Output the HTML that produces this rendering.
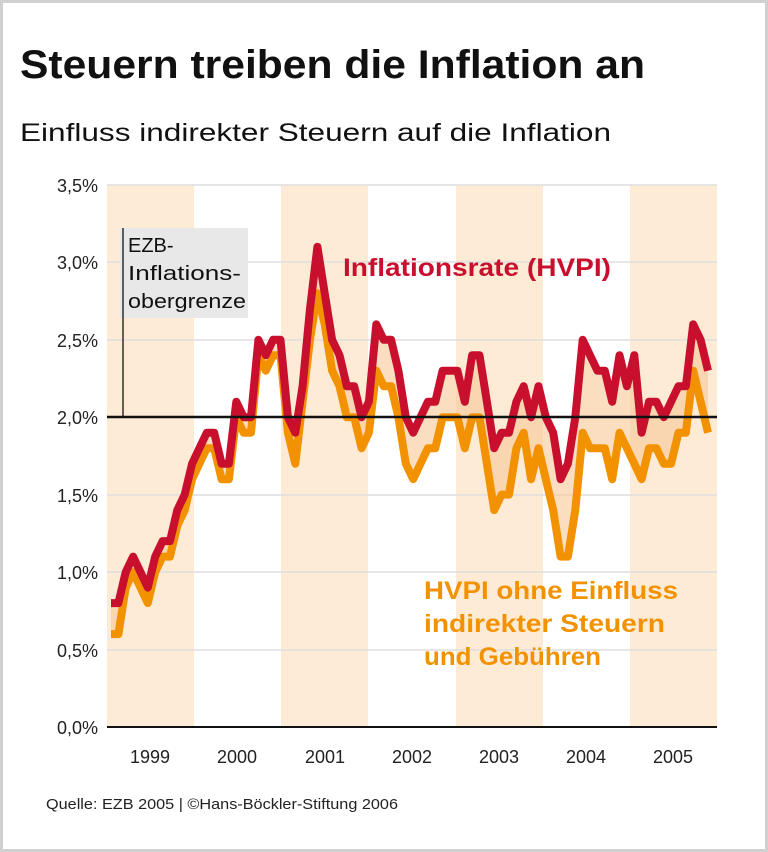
<!DOCTYPE html>
<html><head><meta charset="utf-8"><style>
body{margin:0;background:#fff;}
#w{position:relative;width:762px;height:846px;border:3px solid #d0d0d0;background:#fff;font-family:"Liberation Sans",sans-serif;}
</style></head><body><div id="w">
<svg id="s" width="762" height="846" viewBox="3 3 762 846" style="position:absolute;left:0;top:0" font-family="Liberation Sans, sans-serif">
<g fill="#fdebd6">
<rect x="107" y="185" width="87" height="542"/>
<rect x="281" y="185" width="87" height="542"/>
<rect x="456" y="185" width="87" height="542"/>
<rect x="630" y="185" width="87" height="542"/>
</g>
<g stroke="#dedede" stroke-width="1.5">
<line x1="107" x2="717" y1="185" y2="185"/><line x1="107" x2="717" y1="262" y2="262"/>
<line x1="107" x2="717" y1="340" y2="340"/><line x1="107" x2="717" y1="495" y2="495"/>
<line x1="107" x2="717" y1="572" y2="572"/><line x1="107" x2="717" y1="650" y2="650"/>
</g>
<rect x="120" y="228" width="128" height="90" fill="#e8e8e8"/>
<line x1="123" y1="228" x2="123" y2="417" stroke="#000" stroke-width="1.2"/>
<text font-size="20" fill="#111"><tspan x="128" y="252">EZB-</tspan><tspan x="128" y="280" textLength="113" lengthAdjust="spacingAndGlyphs">Inflations-</tspan><tspan x="128" y="308" textLength="118" lengthAdjust="spacingAndGlyphs">obergrenze</tspan></text>
<polygon id="fa" fill="#f9c896" opacity="0.6"/>
<polyline id="po" fill="none" stroke="#f39200" stroke-width="8" stroke-linejoin="round"/>
<polyline id="pr" fill="none" stroke="#c8102e" stroke-width="8" stroke-linejoin="round"/>
<line x1="107" x2="717" y1="417" y2="417" stroke="#111" stroke-width="2.5"/>
<line x1="107" x2="717" y1="727" y2="727" stroke="#111" stroke-width="2"/>
<text x="20" y="78" font-size="40" font-weight="bold" fill="#111" textLength="625" lengthAdjust="spacingAndGlyphs">Steuern treiben die Inflation an</text>
<text x="20" y="141" font-size="25" fill="#111" textLength="591" lengthAdjust="spacingAndGlyphs">Einfluss indirekter Steuern auf die Inflation</text>
<g font-size="18" fill="#222" text-anchor="end">
<text x="98" y="192">3,5%</text><text x="98" y="269">3,0%</text><text x="98" y="347">2,5%</text>
<text x="98" y="424">2,0%</text><text x="98" y="502">1,5%</text><text x="98" y="579">1,0%</text>
<text x="98" y="657">0,5%</text><text x="98" y="734">0,0%</text>
</g>
<g font-size="18" fill="#222" text-anchor="middle">
<text x="150" y="763">1999</text><text x="237" y="763">2000</text><text x="325" y="763">2001</text>
<text x="412" y="763">2002</text><text x="499" y="763">2003</text><text x="586" y="763">2004</text><text x="673" y="763">2005</text>
</g>
<text x="343" y="276" font-size="25" font-weight="bold" fill="#c8102e" textLength="268" lengthAdjust="spacingAndGlyphs">Inflationsrate (HVPI)</text>
<text font-size="25" font-weight="bold" fill="#f39200"><tspan x="424" y="599" textLength="254" lengthAdjust="spacingAndGlyphs">HVPI ohne Einfluss</tspan><tspan x="424" y="632" textLength="241" lengthAdjust="spacingAndGlyphs">indirekter Steuern</tspan><tspan x="424" y="665" textLength="177" lengthAdjust="spacingAndGlyphs">und Gebühren</tspan></text>
<text x="46" y="809" font-size="15" fill="#222" textLength="352" lengthAdjust="spacingAndGlyphs">Quelle: EZB 2005 | ©Hans-Böckler-Stiftung 2006</text>
</svg>
<script>
var r=[0.8,0.8,1.0,1.1,1.0,0.9,1.1,1.2,1.2,1.4,1.5,1.7,
1.8,1.9,1.9,1.7,1.7,2.1,2.0,2.0,2.5,2.4,2.5,2.5,
2.0,1.9,2.2,2.7,3.1,2.8,2.5,2.4,2.2,2.2,2.0,2.1,
2.6,2.5,2.5,2.3,2.0,1.9,2.0,2.1,2.1,2.3,2.3,2.3,
2.1,2.4,2.4,2.1,1.8,1.9,1.9,2.1,2.2,2.0,2.2,2.0,
1.9,1.6,1.7,2.0,2.5,2.4,2.3,2.3,2.1,2.4,2.2,2.4,
1.9,2.1,2.1,2.0,2.1,2.2,2.2,2.6,2.5,2.3];
var o=[0.6,0.6,0.9,1.0,0.9,0.8,1.0,1.1,1.1,1.3,1.4,1.6,
1.7,1.8,1.8,1.6,1.6,2.0,1.9,1.9,2.4,2.3,2.4,2.4,
1.9,1.7,2.1,2.5,2.8,2.6,2.3,2.2,2.0,2.0,1.8,1.9,
2.3,2.2,2.2,2.0,1.7,1.6,1.7,1.8,1.8,2.0,2.0,2.0,
1.8,2.0,2.0,1.7,1.4,1.5,1.5,1.8,1.9,1.6,1.8,1.6,
1.4,1.1,1.1,1.4,1.9,1.8,1.8,1.8,1.6,1.9,1.8,1.7,
1.6,1.8,1.8,1.7,1.7,1.9,1.9,2.3,2.1,1.9];
function p(a){return a.map(function(v,i){return (111+i*7.37).toFixed(1)+","+(727-v*154.9).toFixed(1)});}
var pr=p(r),po=p(o);
document.getElementById("pr").setAttribute("points",pr.join(" "));
document.getElementById("po").setAttribute("points",po.join(" "));
document.getElementById("fa").setAttribute("points",pr.concat(po.slice().reverse()).join(" "));
</script>
</div></body></html>
